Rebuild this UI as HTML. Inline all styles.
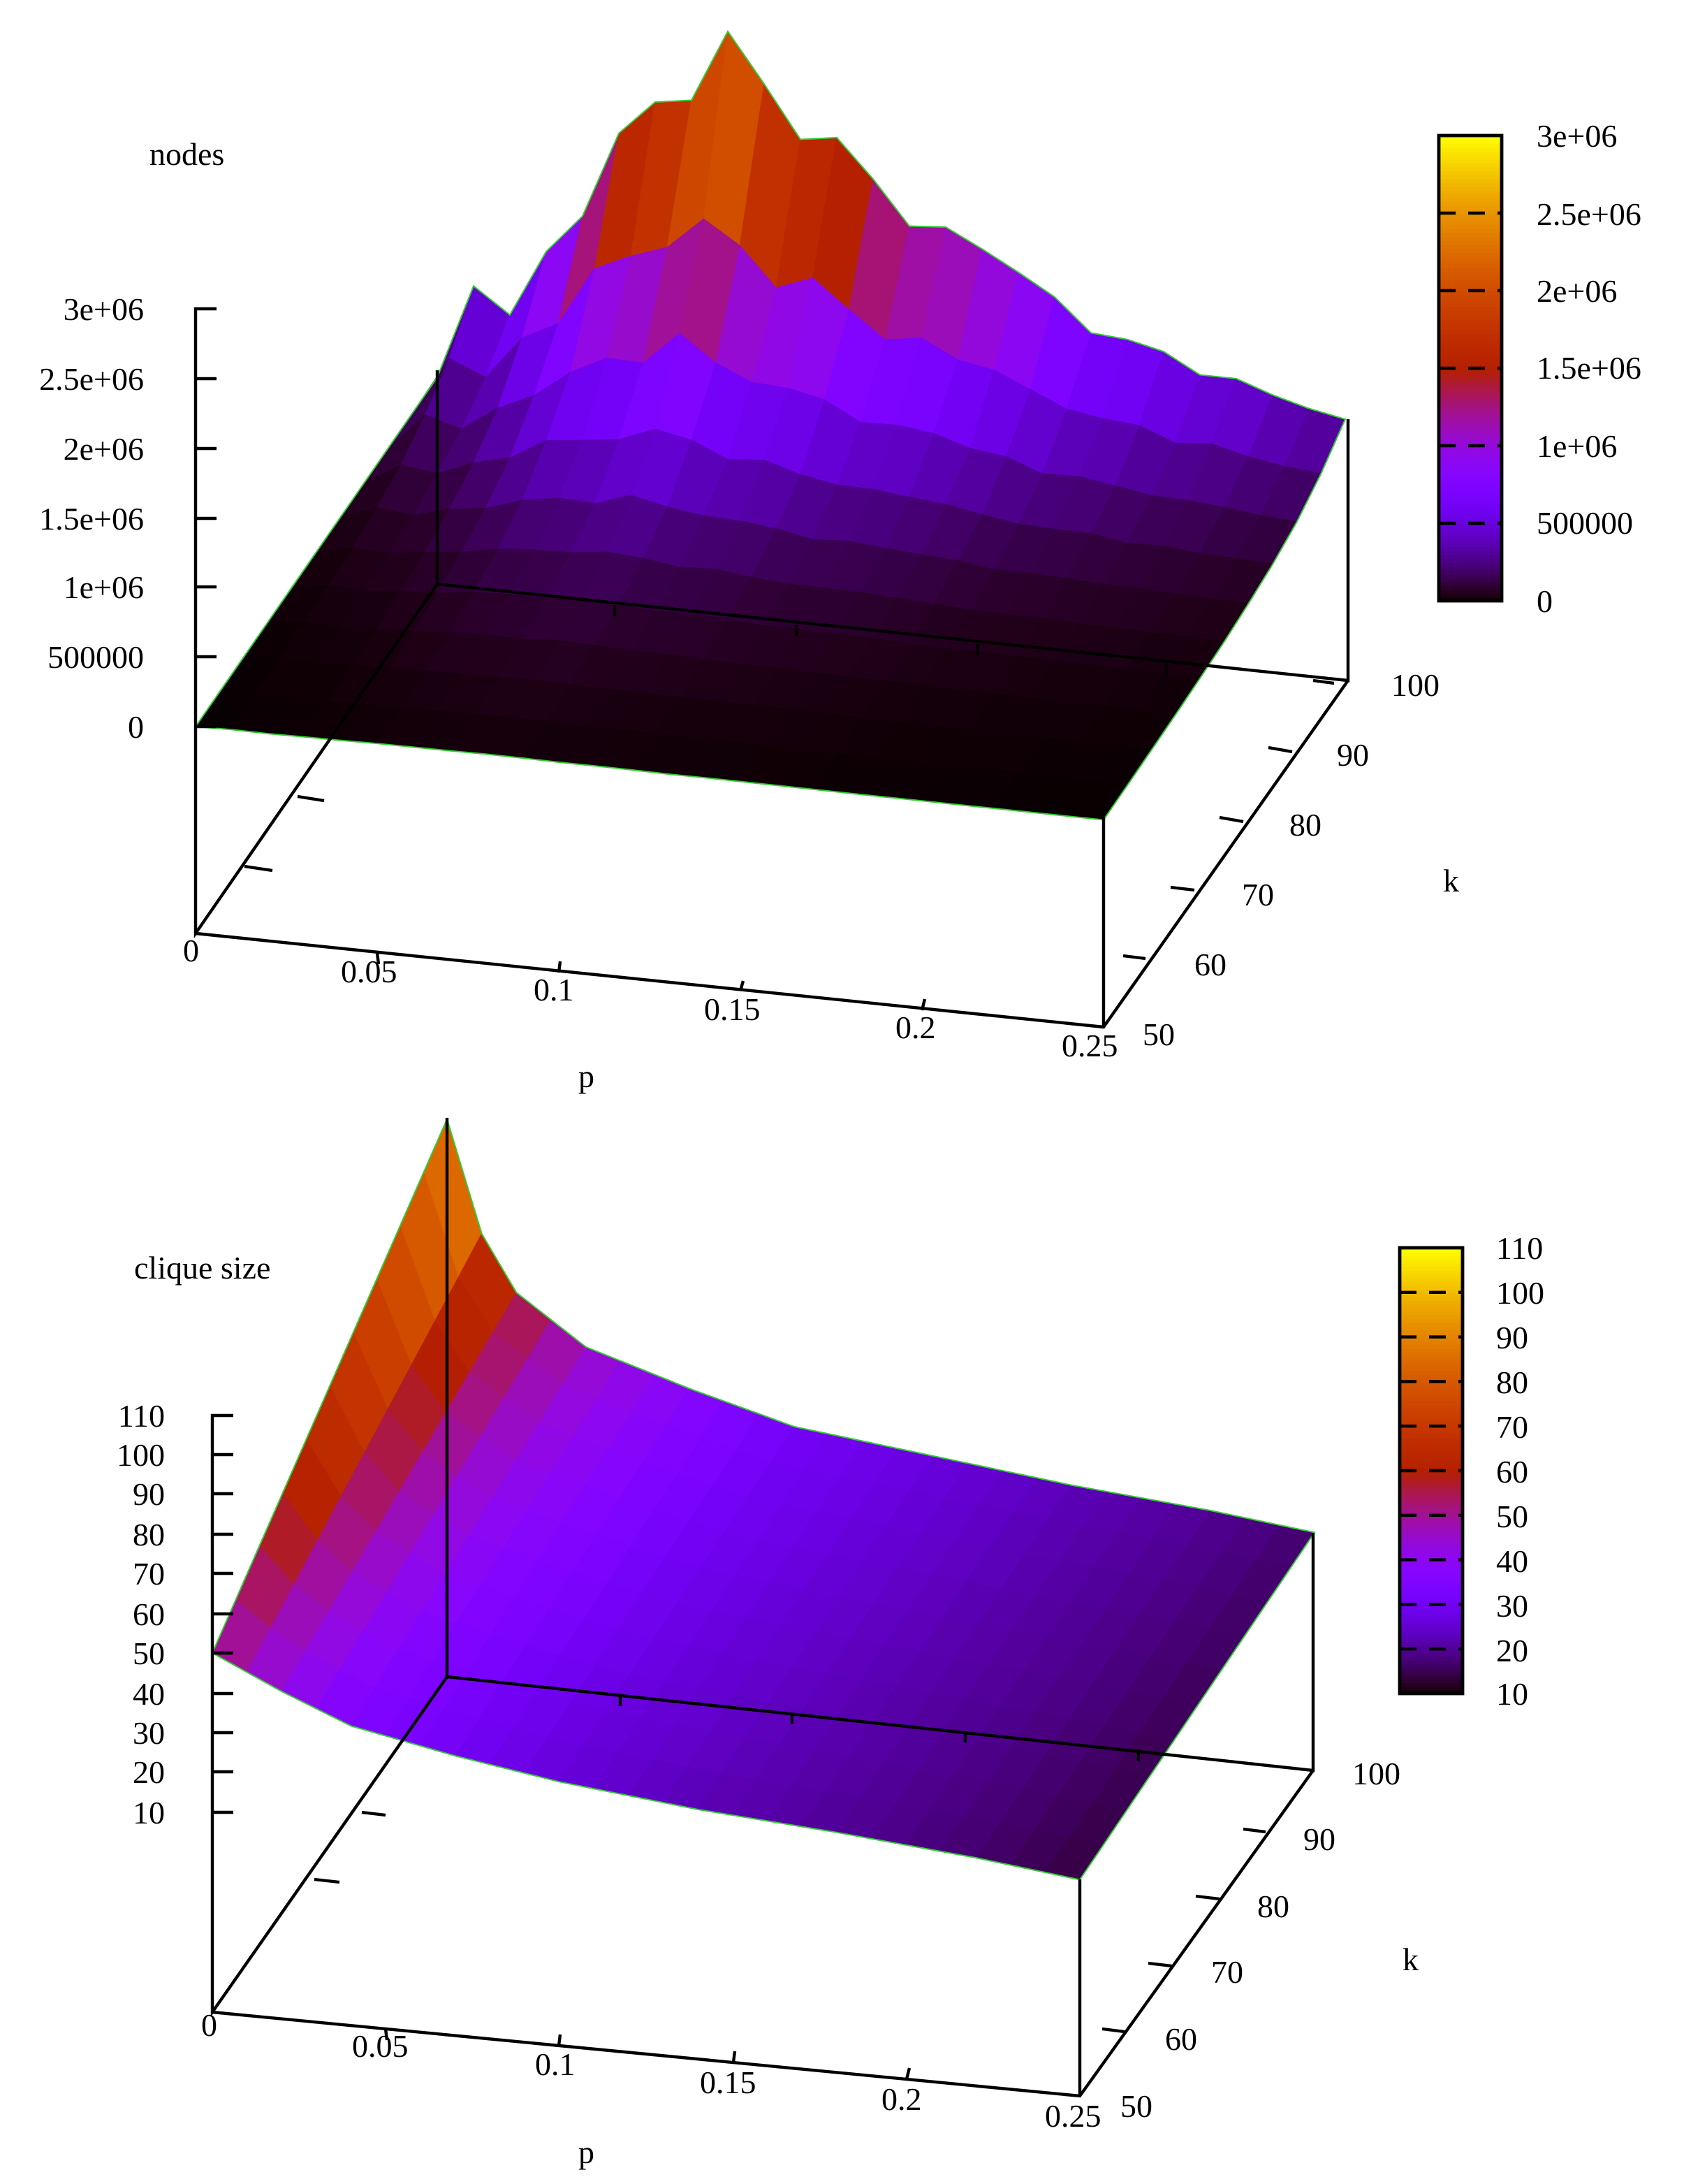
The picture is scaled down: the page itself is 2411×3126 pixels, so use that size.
<!DOCTYPE html>
<html><head><meta charset="utf-8">
<style>
html,body{margin:0;padding:0;background:#fff;}
svg{display:block;}
text{font-family:"Liberation Serif",serif;font-size:23px;fill:#000;}
</style></head>
<body>
<svg id="s" xmlns="http://www.w3.org/2000/svg" width="2411" height="3126" viewBox="0 0 1205.5 1563">
<rect width="1205.5" height="1563" fill="#fff"/>
<g id="surf"></g>
<g stroke="#000" stroke-width="2.2" fill="none">
<path d="M155 221H140V668L313 418L965 487V300M313 418V265M140 668L790 735L965 487M790 735V585"/>
<path d="M140 520H155M140 470H155M140 420H155M140 371H155M140 321H155M140 271H155"/>
<path d="M175 620L195 623M213 570L232 573M804 684L820 686M838 635L855 637M873 585L890 588M908 535L925 538M940 487L955 489"/>
<path d="M270 682L271 690M400 696L401 688M530 709L532 702M660 723L662 715M440 433L440 441M570 447L570 455M700 461L700 469M835 475L835 483"/>
<path d="M167 1013H152V1440L320 1200L940 1267V1097M320 1200V800M152 1440L773 1500L940 1267M773 1500V1345"/>
<path d="M152 1041H167M152 1069H167M152 1098H167M152 1126H167M152 1155H167M152 1183H167M152 1212H167M152 1240H167M152 1268H167M152 1297H167"/>
<path d="M225 1345L243 1347M259 1297L276 1299M789 1452L805 1454M822 1405L839 1407M856 1357L873 1359M890 1309L906 1311"/>
<path d="M276 1452L277 1460M400 1464L401 1456M525 1476L526 1468M649 1488L651 1480M444 1213L444 1221M567 1226L567 1234M691 1239L691 1247M815 1252L815 1260"/>
</g>
<g id="cb"></g>
<g>
<text x="107" y="118">nodes</text>
<g text-anchor="end">
<text x="103" y="229">3e+06</text><text x="103" y="279">2.5e+06</text><text x="103" y="329">2e+06</text>
<text x="103" y="379">1.5e+06</text><text x="103" y="428">1e+06</text><text x="103" y="478">500000</text><text x="103" y="528">0</text>
</g>
<text x="131" y="688">0</text><text x="244" y="703">0.05</text><text x="382" y="716">0.1</text><text x="504" y="730">0.15</text><text x="641" y="743">0.2</text><text x="760" y="756">0.25</text>
<text x="414" y="778">p</text><text x="1033" y="638">k</text>
<text x="818" y="748">50</text><text x="855" y="698">60</text><text x="889" y="648">70</text><text x="923" y="598">80</text><text x="957" y="548">90</text><text x="996" y="498">100</text>
<g>
<text x="1100" y="105">3e+06</text><text x="1100" y="161">2.5e+06</text><text x="1100" y="216">2e+06</text><text x="1100" y="271">1.5e+06</text>
<text x="1100" y="327">1e+06</text><text x="1100" y="382">500000</text><text x="1100" y="438">0</text>
</g>
<text x="96" y="915">clique size</text>
<g text-anchor="end">
<text x="118" y="1021">110</text><text x="118" y="1049">100</text><text x="118" y="1077">90</text><text x="118" y="1106">80</text>
<text x="118" y="1134">70</text><text x="118" y="1163">60</text><text x="118" y="1191">50</text><text x="118" y="1220">40</text>
<text x="118" y="1248">30</text><text x="118" y="1276">20</text><text x="118" y="1305">10</text>
</g>
<text x="144" y="1457">0</text><text x="252" y="1472">0.05</text><text x="383" y="1485">0.1</text><text x="501" y="1498">0.15</text><text x="631" y="1510">0.2</text><text x="748" y="1522">0.25</text>
<text x="414" y="1548">p</text><text x="1004" y="1410">k</text>
<text x="802" y="1515">50</text><text x="834" y="1467">60</text><text x="867" y="1419">70</text><text x="900" y="1372">80</text><text x="933" y="1324">90</text><text x="968" y="1277">100</text>
<g>
<text x="1071" y="901">110</text><text x="1071" y="933">100</text><text x="1071" y="965">90</text><text x="1071" y="997">80</text>
<text x="1071" y="1029">70</text><text x="1071" y="1061">60</text><text x="1071" y="1093">50</text><text x="1071" y="1125">40</text>
<text x="1071" y="1157">30</text><text x="1071" y="1189">20</text><text x="1071" y="1220">10</text>
</g>
</g>
</svg>
<script>
(function(){
var NS="http://www.w3.org/2000/svg";
function pal(x){x=Math.max(0,Math.min(1,x));var r=Math.sqrt(x),g=x*x*x,b=Math.max(0,Math.sin(2*Math.PI*x));
return "rgb("+Math.round(r*255)+","+Math.round(g*255)+","+Math.round(b*255)+")";}
var surf=document.getElementById("surf"),cb=document.getElementById("cb");
function el(parent,tag,attrs){var e=document.createElementNS(NS,tag);for(var a in attrs)e.setAttribute(a,attrs[a]);parent.appendChild(e);return e;}
var h=[0,68,50,98,126,188,213,217,269,234,197,201,174,143,145,132,118,103,80,78,72,58,58,49,42,37];
var bump=[1,1.03,0.97,1.02,0.99,1.04,0.98,1.01,0.97,1.03,1];
function fT(i,k){var j=Math.round((k-50)/5);var v=h[i]*1e4*Math.pow(1.65,(k-100)/5);return v*(j<10?bump[(j+i)%11]:1);}
function PT(i,k,z){var p=i*0.01;return [140+650*p/0.25+173*(k-50)/50, 668+67*p/0.25-250*(k-50)/50-148-z*1e-4];}
function quads(P,f,norm){
 for(var j=9;j>=0;j--){var k0=50+5*j,k1=k0+5;
  for(var i=0;i<25;i++){
   var z=[f(i,k0),f(i+1,k0),f(i+1,k1),f(i,k1)];
   var a=P(i,k0,z[0]),b=P(i+1,k0,z[1]),c=P(i+1,k1,z[2]),d=P(i,k1,z[3]);
   var col=pal(norm((z[0]+z[1]+z[2]+z[3])/4));
   el(surf,"polygon",{points:a.join(",")+" "+b.join(",")+" "+c.join(",")+" "+d.join(","),fill:col,stroke:col,"stroke-width":"0.6"});
  }}
 var pts=[];
 for(var i=0;i<=25;i++)pts.push(P(i,50,f(i,50)).join(","));
 for(var j=0;j<=10;j++)pts.push(P(25,50+5*j,f(25,50+5*j)).join(","));
 for(var i=25;i>=0;i--)pts.push(P(i,100,f(i,100)).join(","));
 for(var j=10;j>=0;j--)pts.push(P(0,50+5*j,f(0,50+5*j)).join(","));
 el(surf,"polygon",{points:pts.join(" "),fill:"none",stroke:"#3c3","stroke-width":"1"});
}
quads(PT,fT,function(z){return z/3e6;});
var tp=[0,0.01,0.02,0.04,0.07,0.1,0.14,0.18,0.22,0.25],t100=[100,72,58,46,38,31,27,23,20,17],t50=[50,46,42,35,30,26,22.4,20,17,14];
function interp(p,arr){for(var n=0;n<tp.length-1;n++){if(p<=tp[n+1]+1e-9){var t=(p-tp[n])/(tp[n+1]-tp[n]);return arr[n]+t*(arr[n+1]-arr[n]);}}return arr[arr.length-1];}
function fB(i,k){var p=i*0.01;var a=interp(p,t50),b=interp(p,t100);return a+(b-a)*(k-50)/50;}
function PB(i,k,z){var p=i*0.01;return [152+621*p/0.25+168*(k-50)/50, 1440+60*p/0.25-240*(k-50)/50-115-z*2.84];}
quads(PB,fB,function(z){return (z-10)/100;});
function bar(x,y0,y1,n){var N=120;for(var q=0;q<N;q++){var ya=y1-(q+1)*(y1-y0)/N,yb=y1-q*(y1-y0)/N;
 el(cb,"rect",{x:x,y:ya,width:45,height:(yb-ya+0.6),fill:pal((q+0.5)/N)});}
 for(var t=1;t<n;t++){var yy=y1-t*(y1-y0)/n;el(cb,"line",{x1:x,x2:x+45,y1:yy,y2:yy,stroke:"#000","stroke-width":"2.2","stroke-dasharray":"12,9"});}
 el(cb,"rect",{x:x,y:y0,width:45,height:(y1-y0),fill:"none",stroke:"#000","stroke-width":"2.4"});}
bar(1030,97,430,6);bar(1002,893,1212,10);
})();
</script>
</body></html>
